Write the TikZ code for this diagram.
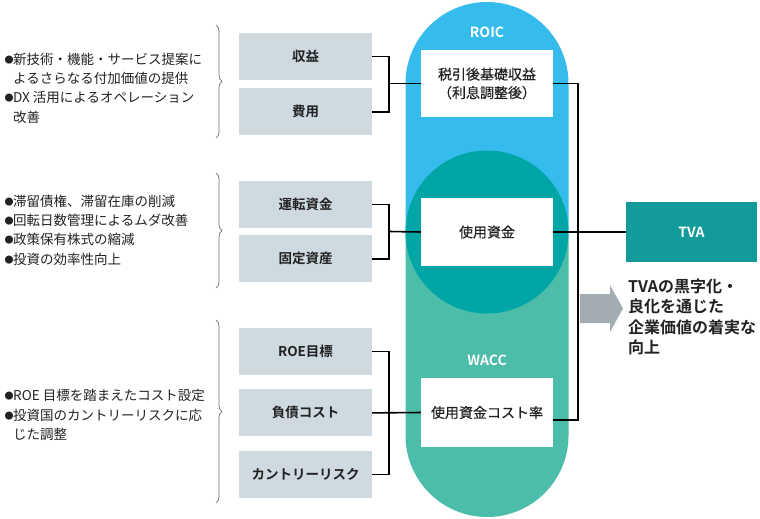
\documentclass[tikz,border=0pt]{standalone}
\usepackage{fontspec}
\setmainfont{Noto Sans CJK JP}[BoldFont={Noto Sans CJK JP Bold}]
\newfontfamily\midweight{Noto Sans CJK JP}[FakeBold=0.5]
\usepackage{xcolor}
\usetikzlibrary{positioning,decorations.pathreplacing}

\definecolor{roicblue}{HTML}{35BCEC}
\definecolor{overlapteal}{HTML}{00A6A6}
\definecolor{waccgreen}{HTML}{4BBDA9}
\definecolor{tvateal}{HTML}{139A9A}
\definecolor{itemgray}{HTML}{CFD9E0}
\definecolor{arrowgray}{HTML}{A3ACB1}
\definecolor{bracegray}{HTML}{707070}
\definecolor{inktext}{HTML}{222222}

\newcommand{\dotmark}{\makebox[8.5pt][l]{\raisebox{1pt}{\fontsize{9}{9}\selectfont ●}}}
\newcommand{\hangmark}{\hspace*{8.5pt}}

\begin{document}
\begin{tikzpicture}[x=1pt,y=-1pt,
  every node/.style={font=\fontsize{13.5}{19.3}\selectfont,inner sep=0pt,text=inktext},
  itembox/.style={fill=itemgray,minimum width=133pt,minimum height=47pt,font=\fontsize{13.5}{16}\selectfont\bfseries},
  metricbox/.style={fill=white,minimum width=132pt,minimum height=68pt,align=center,font=\fontsize{14}{18.5}\selectfont\midweight},
  heading/.style={text=white,font=\fontsize{14}{16}\selectfont\bfseries},
  link/.style={line width=1.6pt},
  curly/.style={bracegray,line width=0.7pt,decorate,decoration={brace,amplitude=6pt}},
  notes/.style={align=left,anchor=west}]
  \useasboundingbox (0,0) rectangle (760,519);
  % capsules
  \fill[roicblue] (405.5,232) -- (405.5,83.5) arc[start angle=180,end angle=360,radius=81.5] -- (568.5,232) -- cycle;
  \fill[waccgreen] (405.5,232) -- (405.5,435.5) arc[start angle=180,end angle=0,radius=81.5] -- (568.5,232) -- cycle;
  \fill[overlapteal] (487,232) circle (81.5);
  \node[heading] (roic) at (487,32) {ROIC};
  \node[heading] (wacc) at (487,360) {WACC};
  \node[metricbox,minimum height=67pt] (nopat) at (487,83.5) {税引後基礎収益\\（利息調整後）};
  \node[metricbox] (capital) at (487,232) {使用資金};
  \node[metricbox,minimum height=69pt] (capcost) at (487,412.5) {使用資金コスト率};
  % drivers
  \node[itembox] (revenue) at (305.5,56.5) {収益};
  \node[itembox,below=8pt of revenue] (expense) {費用};
  \node[itembox] (workcap) at (305.5,204.5) {運転資金};
  \node[itembox,below=7pt of workcap] (fixed) {固定資産};
  \node[itembox] (roe) at (305.5,351.5) {ROE目標};
  \node[itembox,below=14pt of roe] (debt) {負債コスト};
  \node[itembox,below=14pt of debt] (country) {カントリーリスク};
  % TVA
  \node[heading,fill=tvateal,minimum width=131pt,minimum height=60pt] (tva) at (691.5,232) {TVA};
  \node[notes,font=\fontsize{16}{20.5}\selectfont\bfseries] (result) at (628,317) {TVAの黒字化・\\良化を通じた\\企業価値の着実な\\向上};
  \fill[arrowgray] (580,294) -- (610,294) -- (610,285) -- (623,308.5) -- (610,332) -- (610,323) -- (580,323) -- cycle;
  % connectors
  \coordinate (jrev) at (389,83.5);
  \coordinate (jcap) at (389,231.5);
  \coordinate (jcost) at (389,412.5);
  \coordinate (rbus) at (578,420);
  \draw[link] (revenue.east) -| (jrev) |- (expense.east);
  \draw[link] (jrev) -- (nopat.west);
  \draw[link] (workcap.east) -| (jcap) |- (fixed.east);
  \draw[link] (jcap) -- (capital.west);
  \draw[link] (roe.east) -| (jcost) |- (country.east);
  \draw[link] (debt.east) -- (capcost.west);
  \draw[link] (nopat.east) -| (rbus) -- (rbus -| capcost.east);
  \draw[link] (capital.east) -- (tva.west);
  % notes and braces
  \node[notes] (growth) at (4.5,88) {\dotmark 新技術・機能・サービス提案に\\\hangmark よるさらなる付加価値の提供\\\dotmark DX 活用によるオペレーション\\\hangmark 改善};
  \node[notes] (assets) at (4.5,230) {\dotmark 滞留債権、滞留在庫の削減\\\dotmark 回転日数管理によるムダ改善\\\dotmark 政策保有株式の縮減\\\dotmark 投資の効率性向上};
  \node[notes] (costs) at (4.5,415) {\dotmark ROE 目標を踏まえたコスト設定\\\dotmark 投資国のカントリーリスクに応\\\hangmark じた調整};
  \draw[curly] (216,25) -- (216,138);
  \draw[curly] (216,173) -- (216,288);
  \draw[curly] (216,320) -- (216,503);
\end{tikzpicture}
\end{document}
